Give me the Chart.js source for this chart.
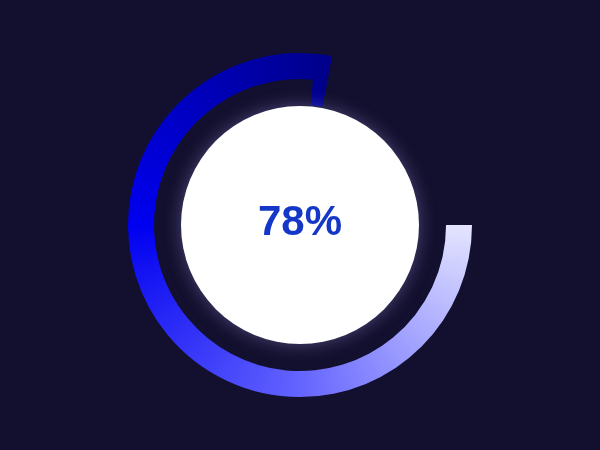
<!DOCTYPE html>
<html>
<head>
<meta charset="utf-8">
<script src="https://cdn.jsdelivr.net/npm/chart.js@4/dist/chart.umd.min.js"></script>
<style>
  html, body { margin: 0; padding: 0; background: #130f2e; }
  canvas { display: block; }
</style>
</head>
<body>
<canvas id="c" width="600" height="450"></canvas>
<script>
// ---- data ----
const progressLabel = '78%';
const sliceLabels = ['Progress', 'Remaining'];
const outerValues = [78, 22];
const innerValues = [76.4, 1.6, 22];
const gradientStops = [
  [0.00, '#e4e4ff'],
  [0.25, '#6464ff'],
  [0.50, '#0000f0'],
  [0.78, '#00008a'],
  [1.00, '#00008a']
];

function ringGradient(context) {
  const chart = context.chart;
  const area = chart.chartArea;
  if (!area) return '#0000f0';
  const cx = (area.left + area.right) / 2;
  const cy = (area.top + area.bottom) / 2;
  const g = chart.ctx.createConicGradient(0, cx, cy);
  gradientStops.forEach(s => g.addColorStop(s[0], s[1]));
  return g;
}

const centerPlugin = {
  id: 'centerPlugin',
  beforeDraw(chart) {
    const ctx = chart.ctx;
    ctx.save();
    ctx.fillStyle = '#130f2e';
    ctx.fillRect(0, 0, chart.width, chart.height);
    ctx.restore();
  },
  afterDatasetsDraw(chart) {
    const ctx = chart.ctx;
    const a = chart.chartArea;
    const cx = (a.left + a.right) / 2;
    const cy = (a.top + a.bottom) / 2;
    ctx.save();
    ctx.beginPath();
    ctx.arc(cx, cy, 119, 0, Math.PI * 2);
    ctx.shadowColor = 'rgba(180,180,255,0.35)';
    ctx.shadowBlur = 18;
    ctx.fillStyle = '#ffffff';
    ctx.fill();
    ctx.restore();
    ctx.save();
    ctx.font = 'bold 42px "Liberation Sans", Arial, sans-serif';
    ctx.fillStyle = '#1437c8';
    ctx.textAlign = 'center';
    ctx.textBaseline = 'middle';
    ctx.fillText(progressLabel, cx, cy - 2);
    ctx.restore();
  }
};

new Chart(document.getElementById('c'), {
  type: 'doughnut',
  data: {
    labels: sliceLabels,
    datasets: [
      {
        data: outerValues,
        backgroundColor: (ctx) => ctx.dataIndex === 0 ? ringGradient(ctx) : 'rgba(0,0,0,0)',
        borderWidth: 0
      },
      {
        data: innerValues,
        backgroundColor: (ctx) => ctx.dataIndex === 1 ? ringGradient(ctx) : 'rgba(0,0,0,0)',
        borderWidth: 0
      }
    ]
  },
  options: {
    responsive: false,
    animation: false,
    rotation: 90,
    cutout: '69.8%',
    layout: { padding: { top: 53, bottom: 53, left: 0, right: 0 } },
    plugins: {
      legend: { display: false },
      tooltip: { enabled: false }
    },
    events: []
  },
  plugins: [centerPlugin]
});
</script>
</body>
</html>
